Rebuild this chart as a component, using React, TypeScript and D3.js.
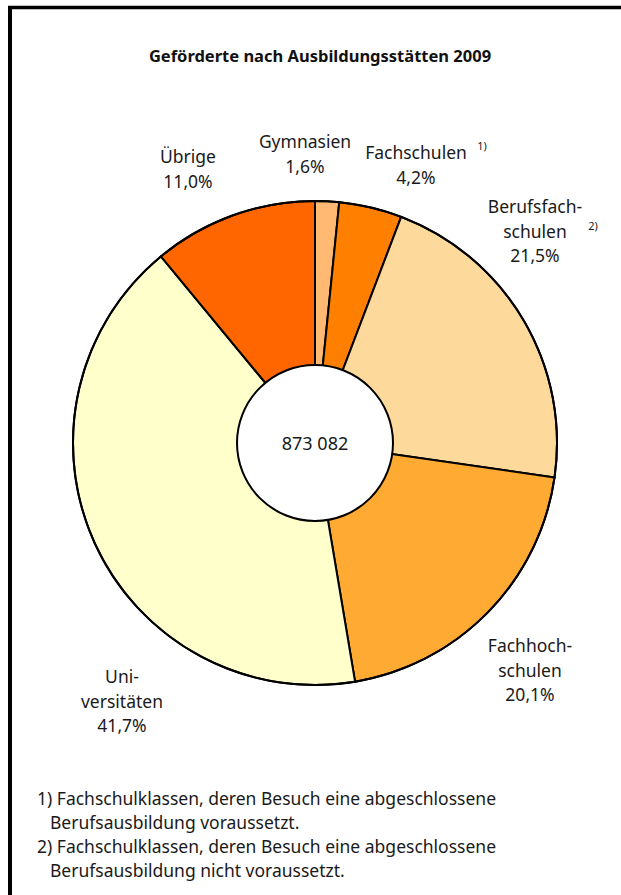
import React from "react";
import * as d3 from "d3";

const categories = ["Gymnasien", "Fachschulen", "Berufsfachschulen", "Fachhochschulen", "Universitäten", "Übrige"];
const values = [1.6, 4.2, 21.5, 20.1, 41.7, 11.0];
const valueLabels = ["1,6%", "4,2%", "21,5%", "20,1%", "41,7%", "11,0%"];
const labelLines = [["Gymnasien"], ["Fachschulen"], ["Berufsfach-", "schulen"], ["Fachhoch-", "schulen"], ["Uni-", "versitäten"], ["Übrige"]];
const footnoteMarks = ["", "1)", "2)", "", "", ""];
const colors = ["#FFB973", "#FF8000", "#FDD99B", "#FFAA33", "#FFFFCC", "#FF6600"];
const total = "873 082";
const title = "Geförderte nach Ausbildungsstätten 2009";
const footnotes = [
  ["1) Fachschulklassen, deren Besuch eine abgeschlossene", "Berufsausbildung voraussetzt."],
  ["2) Fachschulklassen, deren Besuch eine abgeschlossene", "Berufsausbildung nicht voraussetzt."],
];

// label anchor positions (center x, first baseline y)
const labelPos: [number, number][] = [
  [305, 148],
  [416, 159],
  [535, 213],
  [530, 652],
  [122, 683],
  [188, 163],
];
const markPos: [number, number][] = [
  [0, 0],
  [482, 150],
  [593, 230],
  [0, 0],
  [0, 0],
  [0, 0],
];

const W = 621, H = 895;
const cx = 315, cy = 443, R = 242, r0 = 78;
const FONT = "'Noto Sans', 'Open Sans', sans-serif";

export default function App() {
  const pie = d3.pie<number>().sort(null).value((d) => d)(values);
  const arc = d3.arc<d3.PieArcDatum<number>>().innerRadius(0).outerRadius(R);
  const lh = 24.5;
  return (
    <svg width={W} height={H} style={{ position: "absolute", left: 0, top: 0, background: "#fff" }} fontFamily={FONT}>
      <rect x={0} y={0} width={W} height={H} fill="#fff" />
      <line x1={8} y1={7.5} x2={W} y2={7.5} stroke="#000" strokeWidth={3.5} />
      <line x1={10} y1={6} x2={10} y2={H} stroke="#000" strokeWidth={4} />
      <text x={320} y={62} textAnchor="middle" fontSize={16.5} fontWeight="bold" fill="#111">{title}</text>
      <g transform={`translate(${cx},${cy})`}>
        {pie.map((p, i) => (
          <path key={categories[i]} d={arc(p) || ""} fill={colors[i]} stroke="#000" strokeWidth={2} strokeLinejoin="round" />
        ))}
        <circle r={R} fill="none" stroke="#000" strokeWidth={2} />
        <circle r={r0} fill="#fff" stroke="#000" strokeWidth={2} />
        <text y={7} textAnchor="middle" fontSize={18} fill="#1a1a1a">{total}</text>
      </g>
      {categories.map((c, i) => {
        const [x, y] = labelPos[i];
        const lines = [...labelLines[i], valueLabels[i]];
        return (
          <g key={c}>
            {lines.map((t, j) => (
              <text key={j} x={x} y={y + j * lh} textAnchor="middle" fontSize={17.5} fill="#1a1a1a">{t}</text>
            ))}
            {footnoteMarks[i] && (
              <text x={markPos[i][0]} y={markPos[i][1]} textAnchor="middle" fontSize={11} fill="#1a1a1a">{footnoteMarks[i]}</text>
            )}
          </g>
        );
      })}
      {footnotes.map((f, i) => (
        <g key={i}>
          <text x={37} y={805 + i * 48} fontSize={17.5} fill="#1a1a1a">{f[0]}</text>
          <text x={50} y={829 + i * 48} fontSize={17.5} fill="#1a1a1a">{f[1]}</text>
        </g>
      ))}
    </svg>
  );
}
